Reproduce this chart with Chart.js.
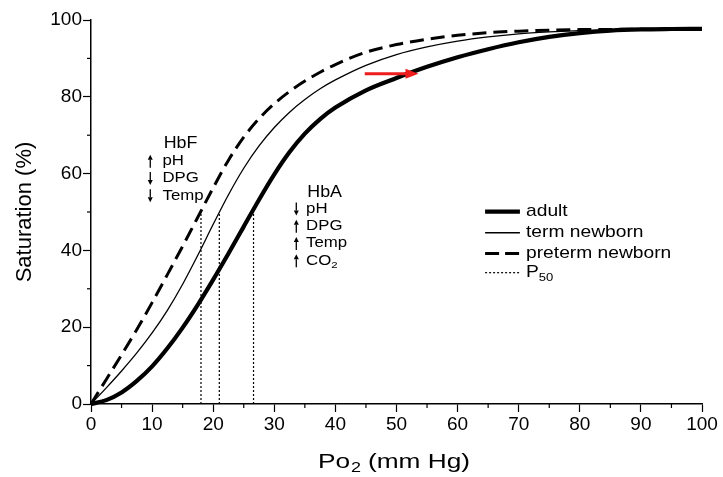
<!DOCTYPE html>
<html>
<head>
<meta charset="utf-8">
<script src="https://cdn.jsdelivr.net/npm/chart.js@4.4.1/dist/chart.umd.min.js"></script>
<style>
  body { margin: 0; background: #fff; }
  canvas { display: block; }
</style>
</head>
<body>
<canvas id="chart" width="723" height="477"></canvas>
<script>
// data (Po2 in mm Hg, saturation in %)
const po2 = [0, 2.5, 5, 7.5, 10, 12.5, 15, 17.5, 20, 22.5, 25, 27.5, 30, 32.5, 35, 37.5, 40, 45, 50, 55, 60, 65, 70, 75, 80, 85, 90, 95, 100];
const adultSat = [0, 1, 3, 6, 9.8, 14.5, 19.9, 25.9, 32.4, 39.2, 46.2, 53.2, 59.8, 65.6, 70.4, 74.2, 77.2, 81.7, 84.9, 87.8, 90.3, 92.4, 94.2, 95.6, 96.6, 97.25, 97.55, 97.65, 97.7];
const termSat = [0, 4.2, 8.6, 13.3, 18.5, 24.4, 31.2, 38.8, 46.8, 54.5, 61.4, 67.2, 72, 76, 79.3, 82.1, 84.4, 88.2, 91, 93, 94.5, 95.6, 96.4, 96.9, 97.25, 97.45, 97.55, 97.65, 97.7];
const pretermSat = [0, 6.4, 12.8, 19.4, 26.4, 33.7, 41.1, 48.7, 56.3, 63.5, 69.5, 74.3, 78.2, 81.4, 84.1, 86.4, 88.4, 91.6, 93.6, 95, 96, 96.7, 97.1, 97.35, 97.5, 97.55, 97.6, 97.65, 97.7];
const p50Values = [18, 21, 26.6];   // preterm, term, adult

const legendItems = ['adult', 'term newborn', 'preterm newborn', 'P50'];
const hbfLabels = ['pH', 'DPG', 'Temp'];
const hbfArrows = [1, -1, -1];
const hbaLabels = ['pH', 'DPG', 'Temp', 'CO2'];
const hbaArrows = [-1, 1, 1, 1];

const FONT = '"Liberation Sans", Arial, Helvetica, sans-serif';

function toPoints(ys) {
  return po2.map((x, i) => ({ x: x, y: ys[i] }));
}

const curveBase = { pointRadius: 0, fill: false, clip: false, cubicInterpolationMode: 'monotone', borderColor: '#000' };

const datasets = [];
p50Values.forEach(v => {
  datasets.push({
    data: [{ x: v, y: 0 }, { x: v, y: 50 }],
    borderColor: '#000', borderWidth: 1.2, borderDash: [2, 2], pointRadius: 0, clip: false
  });
});
datasets.push(Object.assign({}, curveBase, { label: 'preterm newborn', data: toPoints(pretermSat), borderWidth: 3, borderDash: [14, 7] }));
datasets.push(Object.assign({}, curveBase, { label: 'term newborn', data: toPoints(termSat), borderWidth: 1.3 }));
datasets.push(Object.assign({}, curveBase, { label: 'adult', data: toPoints(adultSat), borderWidth: 4.2 }));

// text drawn with a little horizontal stretch, the scan is wider than tall
function stretchText(ctx, str, x, y, size, sx, align) {
  ctx.save();
  ctx.font = size + 'px ' + FONT;
  ctx.textBaseline = 'middle';
  ctx.textAlign = align || 'left';
  ctx.translate(x, y);
  ctx.scale(sx, 1);
  ctx.fillText(str, 0, 0);
  ctx.restore();
}

// text with a trailing subscript, e.g. P50, CO2
function subText(ctx, main, sub, x, y, size, sx) {
  ctx.save();
  ctx.font = size + 'px ' + FONT;
  const w = ctx.measureText(main).width * sx;
  ctx.restore();
  stretchText(ctx, main, x, y, size, sx);
  stretchText(ctx, sub, x + w, y + size * 0.3, size * 0.68, sx);
}

function vArrow(ctx, x, y, dir) {
  // dir 1 = up, -1 = down
  const h = 6.5, head = 5;
  ctx.save();
  ctx.strokeStyle = '#000';
  ctx.fillStyle = '#000';
  ctx.lineWidth = 1.3;
  ctx.beginPath();
  ctx.moveTo(x, y + h * dir);
  ctx.lineTo(x, y - h * dir + head * dir);
  ctx.stroke();
  ctx.beginPath();
  ctx.moveTo(x, y - h * dir);
  ctx.lineTo(x - 2.5, y - h * dir + head * dir);
  ctx.lineTo(x + 2.5, y - h * dir + head * dir);
  ctx.closePath();
  ctx.fill();
  ctx.restore();
}

const decorPlugin = {
  id: 'decor',
  afterDatasetsDraw(chart) {
    const ctx = chart.ctx;
    const xs = chart.scales.x, ys = chart.scales.y;
    const area = chart.chartArea;
    const px = v => xs.getPixelForValue(v);
    const py = v => ys.getPixelForValue(v);
    ctx.fillStyle = '#000';

    // minor ticks
    ctx.save();
    ctx.strokeStyle = '#000';
    ctx.lineWidth = 1.2;
    for (let v = 5; v < 100; v += 10) {
      ctx.beginPath();
      ctx.moveTo(px(v), area.bottom);
      ctx.lineTo(px(v), area.bottom + 4);
      ctx.stroke();
    }
    for (let v = 10; v < 100; v += 20) {
      ctx.beginPath();
      ctx.moveTo(area.left, py(v));
      ctx.lineTo(area.left - 4, py(v));
      ctx.stroke();
    }
    ctx.restore();

    // axis titles
    ctx.save();
    ctx.translate(25, (area.top + area.bottom) / 2);
    ctx.rotate(-Math.PI / 2);
    stretchText(ctx, 'Saturation (%)', 0, 0, 22, 1, 'center');
    ctx.restore();
    const tx = 318;
    stretchText(ctx, 'Po', tx, 462, 21, 1.25);
    stretchText(ctx, '2', tx + 33, 468, 15, 1.2);
    stretchText(ctx, '(mm Hg)', tx + 50, 462, 21, 1.25);

    // HbF block
    stretchText(ctx, 'HbF', px(11.9), py(68), 17, 1.05);
    hbfLabels.forEach((t, i) => {
      const y = py(63.2 - i * 4.5);
      stretchText(ctx, t, px(11.7), y, 14, 1.2);
      vArrow(ctx, px(9.7), y, hbfArrows[i]);
    });

    // HbA block
    stretchText(ctx, 'HbA', px(35.4), py(55.2), 17, 1.05);
    hbaLabels.forEach((t, i) => {
      const y = py(50.8 - i * 4.5);
      if (t === 'CO2') subText(ctx, 'CO', '2', px(35.2), y, 14, 1.2);
      else stretchText(ctx, t, px(35.2), y, 14, 1.2);
      vArrow(ctx, px(33.6), y, hbaArrows[i]);
    });

    // red arrow pointing at the adult curve
    ctx.save();
    ctx.strokeStyle = '#ee1c1c';
    ctx.fillStyle = '#ee1c1c';
    ctx.lineWidth = 3;
    const ay = py(86), ax0 = px(44.8), ax1 = px(53.6);
    ctx.beginPath();
    ctx.moveTo(ax0, ay);
    ctx.lineTo(ax1 - 10, ay);
    ctx.stroke();
    ctx.beginPath();
    ctx.moveTo(ax1, ay);
    ctx.lineTo(ax1 - 13, ay - 5);
    ctx.lineTo(ax1 - 13, ay + 5);
    ctx.closePath();
    ctx.fill();
    ctx.restore();

    // legend
    const lx0 = px(64.5), lx1 = px(70.2), ltx = px(71.2);
    const rows = [50.1, 44.6, 39.2, 34.2];
    const styles = [
      { w: 4.2, dash: [] },
      { w: 1.3, dash: [] },
      { w: 3, dash: [14, 6] },
      { w: 1.2, dash: [2, 2] }
    ];
    legendItems.forEach((name, i) => {
      const y = py(rows[i]);
      ctx.save();
      ctx.strokeStyle = '#000';
      ctx.lineWidth = styles[i].w;
      ctx.setLineDash(styles[i].dash);
      ctx.beginPath();
      ctx.moveTo(lx0, y);
      ctx.lineTo(lx1, y);
      ctx.stroke();
      ctx.restore();
      if (name === 'P50') subText(ctx, 'P', '50', ltx, y, 17, 1.13);
      else stretchText(ctx, name, ltx, y, 17, 1.13);
    });
  }
};

const tickFont = { family: FONT, size: 19 };

new Chart(document.getElementById('chart'), {
  type: 'line',
  data: { datasets: datasets },
  options: {
    responsive: false,
    animation: false,
    events: [],
    layout: { padding: { top: 20, right: 21, left: 0, bottom: 0 } },
    plugins: { legend: { display: false }, tooltip: { enabled: false } },
    scales: {
      x: {
        type: 'linear', min: 0, max: 100,
        afterFit: s => { s.height = 73; },
        border: { display: true, color: '#000', width: 1.5 },
        grid: { drawOnChartArea: false, drawTicks: true, tickLength: 8, color: '#000', tickWidth: 1.2 },
        ticks: { stepSize: 10, color: '#000', font: tickFont, padding: 1, maxRotation: 0 }
      },
      y: {
        min: 0, max: 100,
        afterFit: s => { s.width = 91; },
        border: { display: true, color: '#000', width: 1.5 },
        grid: { drawOnChartArea: false, drawTicks: true, tickLength: 8, color: '#000', tickWidth: 1.2 },
        ticks: { stepSize: 20, color: '#000', font: tickFont, padding: 1 }
      }
    }
  },
  plugins: [decorPlugin]
});
</script>
</body>
</html>
